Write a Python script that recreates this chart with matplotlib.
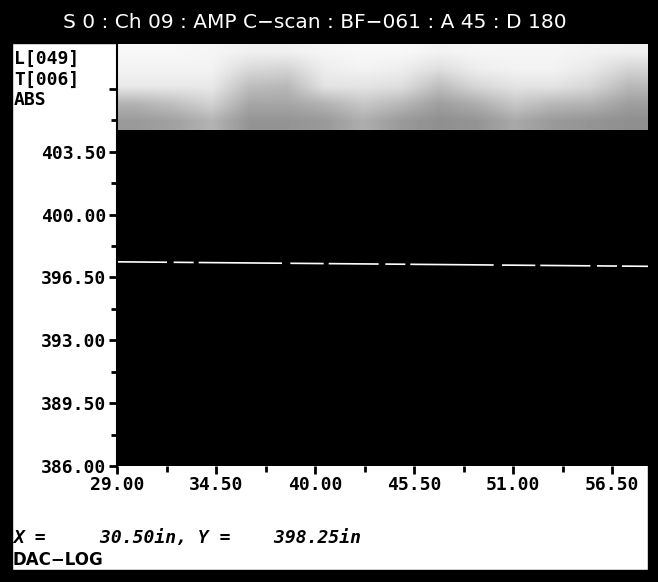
import matplotlib
matplotlib.use("Agg")
import matplotlib.pyplot as plt
from matplotlib.patches import Rectangle
from matplotlib.colors import LinearSegmentedColormap
import numpy as np

# --- data ---
title = "S 0 : Ch 09 : AMP C\u2212scan : BF\u2212061 : A 45 : D 180"
gate_labels = ["L[049]", "T[006]", "ABS"]
x_ticks = [29.0, 34.5, 40.0, 45.5, 51.0, 56.5]
x_minor = [31.75, 37.25, 42.75, 48.25, 53.75]
y_ticks = [386.0, 389.5, 393.0, 396.5, 400.0, 403.5, 407.0]
y_minor = [387.75, 391.25, 394.75, 398.25, 401.75, 405.25]
x_range = [29.0, 58.5]
y_range = [386.0, 409.5]

# amplitude: saturated (black) up to sat_top, speckled band above it
sat_top = 404.7
band_amp = [
    [.03, .03, .04, .06, .06, .04, .03, .03, .05, .04, .04, .04, .05, .06],
    [.05, .05, .05, .15, .17, .07, .05, .07, .13, .07, .05, .05, .09, .17],
    [.09, .09, .09, .26, .28, .11, .11, .13, .26, .16, .11, .11, .16, .28],
    [.30, .25, .18, .35, .35, .30, .22, .28, .38, .32, .22, .28, .30, .38],
    [.40, .37, .30, .42, .42, .40, .32, .40, .44, .42, .34, .40, .42, .44],
]

# scan line across the part
line_x = [29.0, 58.5]
line_y = [397.37, 397.12]

cursor_x = 30.50
cursor_y = 398.25
mode = "DAC\u2212LOG"

W, H = 658, 582
fig = plt.figure(figsize=(W / 100, H / 100), dpi=100)
fig.patch.set_facecolor("white")


def fx(px):
    return px / W


def fy(py):
    # py measured from the top
    return 1 - py / H


# frame
for (x0, y0, w, h) in [(0, 0, 12, H), (648, 0, 10, H), (0, 570, W, 12), (0, 0, W, 43)]:
    fig.add_artist(Rectangle((fx(x0), fy(y0 + h)), w / W, h / H,
                             transform=fig.transFigure, color="black", zorder=0))

ax = fig.add_axes([fx(117), fy(466), (648 - 117) / W, (466 - 44) / H])
ax.set_facecolor("white")

cmap = LinearSegmentedColormap.from_list("amp", ["white", "black"])
ax.imshow(np.array(band_amp), cmap=cmap, vmin=0, vmax=1, aspect="auto",
          interpolation="bilinear", origin="upper",
          extent=[x_range[0], x_range[1], sat_top, y_range[1]])
ax.axhspan(y_range[0], sat_top, color="black", lw=0)
ax.plot(line_x, line_y, color="white", lw=1.2,
        ls=(0, (30, 4, 12, 3, 50, 5, 20, 3)))

ax.set_xlim(x_range)
ax.set_ylim(y_range)

for s in ["top", "right", "bottom"]:
    ax.spines[s].set_visible(False)
ax.spines["left"].set_linewidth(1.5)

mono = {"family": "DejaVu Sans Mono", "weight": "bold", "size": 13}
ax.set_xticks(x_ticks)
ax.set_xticklabels(["%.2f" % v for v in x_ticks], fontdict=mono)
ax.set_xticks(x_minor, minor=True)
ax.set_yticks(y_ticks)
ax.set_yticklabels(["%.2f" % v if v < 405 else "" for v in y_ticks], fontdict=mono)
ax.set_yticks(y_minor, minor=True)
ax.tick_params(which="major", direction="out", length=6, width=2, pad=1.5)
ax.tick_params(which="minor", direction="out", length=4, width=2)

# title bar
fig.text(fx(315), fy(23), title, color="white", ha="center", va="center",
         fontsize=14.5, family="DejaVu Sans")

# gate info
for i, lab in enumerate(gate_labels):
    fig.text(fx(14), fy(59 + 20.5 * i), lab, ha="left", va="center",
             family="DejaVu Sans Mono", weight="bold", fontsize=13)

# cursor readout
readout = "X =     %.2fin, Y =    %.2fin" % (cursor_x, cursor_y)
fig.text(fx(13), fy(538), readout, ha="left", va="center",
         family="DejaVu Sans Mono", weight="bold", style="oblique", fontsize=13)
fig.text(fx(13), fy(560), mode, ha="left", va="center",
         family="DejaVu Sans", weight="bold", fontsize=12)

fig.savefig("out.png", dpi=100)
